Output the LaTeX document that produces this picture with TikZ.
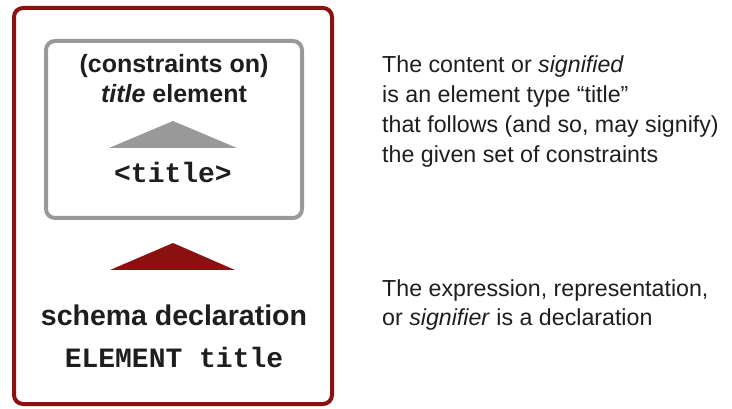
\documentclass[tikz,border=0pt]{standalone}
\usepackage{fontspec}
\setmainfont{Liberation Sans}
\setmonofont{Liberation Mono}
\definecolor{frame}{RGB}{139,16,16}
\definecolor{greyline}{RGB}{153,153,153}
\definecolor{ink}{RGB}{30,30,30}
\begin{document}
\begin{tikzpicture}[x=1pt,y=-1pt,
  box/.style={draw, line width=4pt, rounded corners=9pt, inner sep=0pt},
  boxlabel/.style={anchor=base, inner sep=0pt, text=ink, font=\fontsize{25}{30}\selectfont\bfseries},
  codelabel/.style={anchor=base, inner sep=0pt, text=ink, font=\fontsize{28}{30}\selectfont\ttfamily\bfseries},
  declabel/.style={anchor=base, inner sep=0pt, text=ink, font=\fontsize{28.5}{32}\selectfont\bfseries},
  note/.style={anchor=base west, inner sep=0pt, text=ink, font=\fontsize{23.2}{30}\selectfont}]
\useasboundingbox (0,0) rectangle (732,409);

% outer frame: the signifier side
\node[box, draw=frame, minimum width=318pt, minimum height=396pt] (outer) at (173,206) {};
% inner frame: the signified
\node[box, draw=greyline, minimum width=256pt, minimum height=177pt] (inner) at (174,129.5) {};

% inner frame text
\node[boxlabel] (constr) at (174,73) {(constraints on)};
\node[boxlabel] (elem) at (174,103) {\textit{title} element};
\fill[greyline] (109,148) -- (173,121) -- (237,148) -- cycle;
\node[codelabel] (tag) at (173,183) {<title>};

% pointer to the declaration
\fill[frame] (110,270) -- (173,243) -- (235,270) -- cycle;

% declaration text
\node[declabel] (decl) at (174,325) {schema declaration};
\node[codelabel] (code) at (174,367) {ELEMENT title};

% explanations
\node[note] (s1) at (382,73) {The content or \textit{signified}};
\node[note] (s2) at (382,103) {is an element type “title”};
\node[note] (s3) at (382,133) {that follows (and so, may signify)};
\node[note] (s4) at (382,163) {the given set of constraints};
\node[note] (e1) at (382,297) {The expression, representation,};
\node[note] (e2) at (382,326) {or \textit{signifier} is a declaration};
\end{tikzpicture}
\end{document}
